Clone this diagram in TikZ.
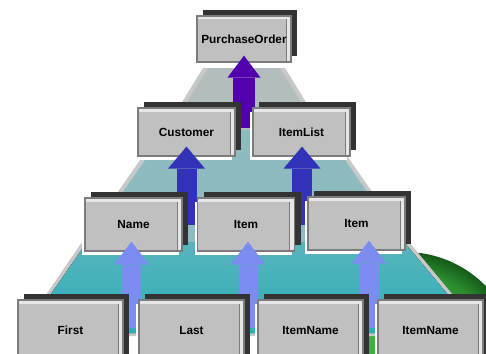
\documentclass[tikz,border=0pt]{standalone}
\usepackage{fontspec}
\newfontfamily\boxfont{Liberation Sans}
\usetikzlibrary{arrows.meta,shadows}

\definecolor{boxgrey}{HTML}{C0C0C0}
\definecolor{boxedge}{HTML}{7C7C7C}
\definecolor{bevel}{HTML}{E6E6E6}
\definecolor{shadowdark}{HTML}{333333}
\definecolor{rim}{HTML}{C8C8C8}
\definecolor{tierone}{HTML}{B3BDBD}
\definecolor{tiertwo}{HTML}{8DBBBF}
\definecolor{tierthreetop}{HTML}{58B4BC}
\definecolor{tierthreebot}{HTML}{2DAFB8}
\definecolor{arrowpurple}{HTML}{5200AE}
\definecolor{arrowblue}{HTML}{3232B8}
\definecolor{arrowpale}{HTML}{7B8DF0}
\definecolor{globein}{HTML}{40AE40}
\definecolor{globemid}{HTML}{2A8A2E}
\definecolor{globeout}{HTML}{145A18}
\definecolor{cornermark}{HTML}{B8B000}

\pgfdeclareradialshading{globe}{\pgfpoint{0bp}{0bp}}{color(0bp)=(globein); color(15bp)=(globein); color(21bp)=(globemid); color(25bp)=(globeout); color(50bp)=(globeout)}

\tikzset{
    xbox/.style={rectangle, inner sep=0pt, fill=boxgrey, draw=boxedge, line width=1.2pt,
        font=\boxfont\bfseries\fontsize{11.8pt}{14pt}\selectfont,
        general shadow={fill=white, shadow xshift=-3pt, shadow yshift=-4pt},
        general shadow={fill=shadowdark, shadow xshift=6pt, shadow yshift=6pt},
        path picture={
            \fill[bevel] (path picture bounding box.north west) rectangle ([yshift=-3.5pt]path picture bounding box.north east);
            \fill[bevel] ([xshift=-5pt]path picture bounding box.north east) rectangle (path picture bounding box.south east);
            \draw[boxedge, line width=.6pt] ([xshift=-5pt,yshift=-3.5pt]path picture bounding box.north east) -- ([xshift=-5pt]path picture bounding box.south east);
            \fill[cornermark] (path picture bounding box.north west) circle (2pt);
            \fill[cornermark] (path picture bounding box.south east) circle (2pt);
        }},
    toprow/.style={xbox, minimum width=94pt, minimum height=46pt},
    secondrow/.style={xbox, minimum width=97pt, minimum height=48pt},
    thirdrow/.style={xbox, minimum width=97pt, minimum height=53pt},
    leafrow/.style={xbox, minimum width=105pt, minimum height=60pt},
    toparrow/.style={arrowpurple, line width=22pt, -{Triangle[width=33pt,length=22pt,line width=0pt]}, shorten >=-7pt},
    midarrow/.style={arrowblue, line width=20pt, -{Triangle[width=37pt,length=22pt,line width=0pt]}, shorten >=-10pt},
    leafarrow/.style={arrowpale, line width=19pt, -{Triangle[width=35pt,length=23pt,line width=0pt]}, shorten >=-10pt}
}

\begin{document}
\begin{tikzpicture}[x=1pt, y=-1pt]
    \useasboundingbox (0,0) rectangle (486,353);
    \clip (0,0) rectangle (486,353);

    \shade[shading=globe] (405,365) circle (113);

    \fill[rim] (203,68) -- (285,68) -- (323,130) -- (165,130) -- cycle;
    \fill[tierone] (208,68) -- (280,68) -- (318,130) -- (170,130) -- cycle;
    \fill[rim] (161,130) -- (329,130) -- (407,242) -- (83,242) -- cycle;
    \fill[tiertwo] (166,130) -- (324,130) -- (402,242) -- (88,242) -- cycle;
    \fill[rim] (82,242) -- (409,242) -- (487,336) -- (18,336) -- cycle;
    \fill[top color=tierthreetop, bottom color=tierthreebot] (87,242) -- (404,242) -- (480,333) -- (24,333) -- cycle;

    \node[toprow] (po) at (244,39) {PurchaseOrder};
    \coordinate (pofoot) at (244,128);
    \draw[toparrow] (pofoot) -- (pofoot |- po.south);

    \node[secondrow] (cust) at (186.5,132) {Customer};
    \node[secondrow] (list) at (301.5,132) {ItemList};
    \coordinate (custfoot) at (186.5,225);
    \coordinate (listfoot) at (302,225);
    \draw[midarrow] (custfoot) -- (custfoot |- cust.south);
    \draw[midarrow] (listfoot) -- (listfoot |- list.south);

    \node[thirdrow] (name) at (133.5,224.5) {Name};
    \node[thirdrow] (itema) at (246,224.5) {Item};
    \node[thirdrow] (itemb) at (356.5,223.5) {Item};
    \coordinate (namefoot) at (131.5,328);
    \coordinate (itemafoot) at (248,328);
    \coordinate (itembfoot) at (369,328);
    \draw[leafarrow] (namefoot) -- (namefoot |- name.south);
    \draw[leafarrow] (itemafoot) -- (itemafoot |- itema.south);
    \draw[leafarrow] (itembfoot) -- (itembfoot |- itemb.south);

    \node[leafrow] (first) at (70.5,330) {First};
    \node[leafrow] (last) at (191.5,330) {Last};
    \node[leafrow] (inamea) at (310.5,330) {ItemName};
    \node[leafrow] (inameb) at (430.5,330) {ItemName};
\end{tikzpicture}
\end{document}
